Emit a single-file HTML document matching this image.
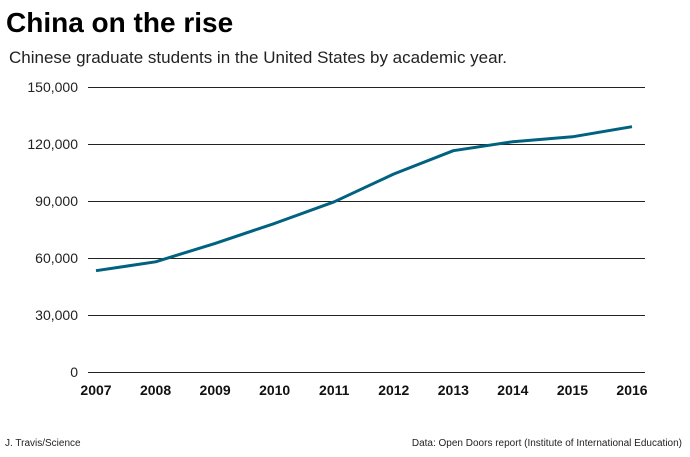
<!DOCTYPE html>
<html><head><meta charset="utf-8"><style>
body{margin:0;background:#fff;font-family:"Liberation Sans",Arial,sans-serif;}
#wrap{position:relative;width:690px;height:457px;overflow:hidden;}
</style></head><body>
<div id="wrap">
<svg id="chart" width="690" height="457">
<text x="6" y="32" font-size="28" font-weight="bold" fill="#000">China on the rise</text>
<text x="9" y="63" font-size="17" fill="#222">Chinese graduate students in the United States by academic year.</text>
<g id="grid"></g>
<g id="yticks"></g>
<g id="xticks"></g>
<path id="line" fill="none" stroke="#00627f" stroke-width="3" stroke-linejoin="round"></path>
<text x="5" y="446" font-size="10" fill="#222">J. Travis/Science</text>
<text x="682" y="446" font-size="10" fill="#222" text-anchor="end">Data: Open Doors report (Institute of International Education)</text>
</svg>
</div>
<script>
const years=["2007","2008","2009","2010","2011","2012","2013","2014","2015","2016"];
const students=[53300,58000,67700,78200,89600,104200,116500,121200,123800,129100];
const yTicks=[0,30000,60000,90000,120000,150000];
const yTickLabels=["0","30,000","60,000","90,000","120,000","150,000"];
const NS="http://www.w3.org/2000/svg";
const x0=96,x1=632,gx0=88,gx1=645,yb=372,yt=87;
function xs(i){return x0+(x1-x0)*i/(years.length-1);}
function ys(v){return yb-(yb-yt)*v/150000;}
const grid=document.getElementById('grid'),yt_g=document.getElementById('yticks'),xt_g=document.getElementById('xticks');
yTicks.forEach((t,i)=>{
 const l=document.createElementNS(NS,'line');
 l.setAttribute('x1',gx0);l.setAttribute('x2',gx1);l.setAttribute('y1',ys(t)+0.5);l.setAttribute('y2',ys(t)+0.5);
 l.setAttribute('stroke','#222');l.setAttribute('stroke-width','1');
 
 
 grid.appendChild(l);
 const tx=document.createElementNS(NS,'text');
 tx.setAttribute('x',78);tx.setAttribute('y',ys(t)+5);tx.setAttribute('text-anchor','end');
 tx.setAttribute('font-size','14');tx.setAttribute('fill','#222');tx.textContent=yTickLabels[i];
 
 
 yt_g.appendChild(tx);
});
years.forEach((y,i)=>{
 const tx=document.createElementNS(NS,'text');
 tx.setAttribute('x',xs(i));tx.setAttribute('y',395);tx.setAttribute('text-anchor','middle');
 tx.setAttribute('font-size','14');tx.setAttribute('font-weight','bold');tx.setAttribute('fill','#111');tx.textContent=y;
 
 
 xt_g.appendChild(tx);
});
document.getElementById('line').setAttribute('d',students.map((v,i)=>(i?'L':'M')+xs(i).toFixed(1)+','+ys(v).toFixed(1)).join(''));
</script>
</body></html>
